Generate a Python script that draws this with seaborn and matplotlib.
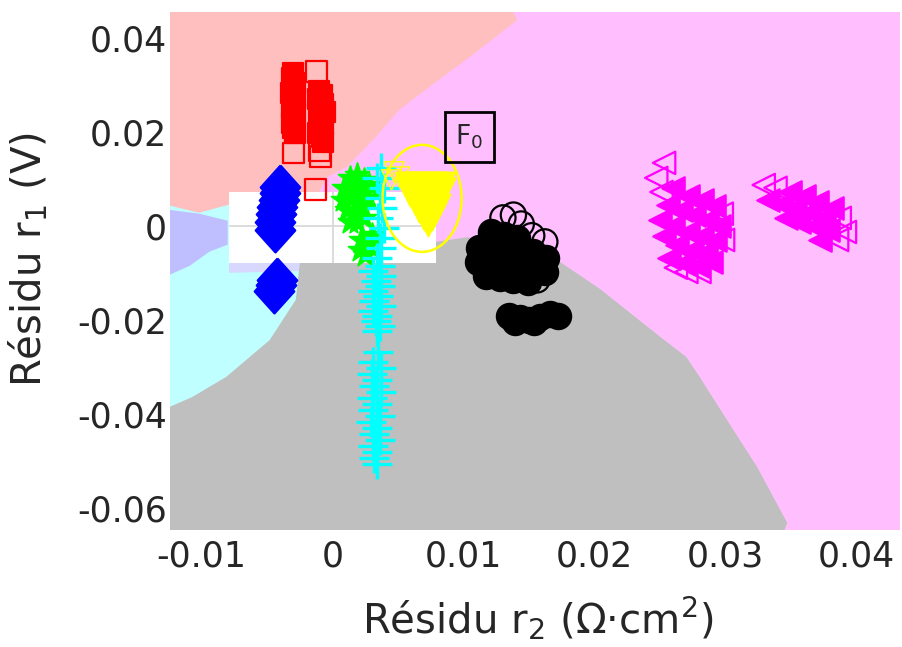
import matplotlib
matplotlib.use("Agg")
import matplotlib.pyplot as plt
from matplotlib.patches import Ellipse
import seaborn as sns

# ------------------------------------------------------------
# Decision regions (boundary vertices)
# ------------------------------------------------------------
magenta_reg_x = [-0.0130, 0.0440, 0.0440, -0.0130]
magenta_reg_y = [0.0460, 0.0460, -0.0660, -0.0660]

cyan_reg_x = [-0.0130, -0.0079, -0.0079, -0.0025, -0.0025, -0.0130]
cyan_reg_y = [0.0047, 0.0047, -0.0079, -0.0079, -0.0450, -0.0450]

salmon_reg_x = [-0.0130, 0.0137, 0.0141, 0.0107, 0.0076, 0.0051, 0.0031,
                0.0011, -0.0005, -0.0010, -0.0079, -0.0079, -0.0102, -0.0130]
salmon_reg_y = [0.0460, 0.0460, 0.0438, 0.0364, 0.0300, 0.0247, 0.0183,
                0.0126, 0.0102, 0.0072, 0.0072, 0.0045, 0.0028, 0.0047]

lavender_reg_x = [-0.0130, -0.0102, -0.0080, -0.0080, -0.0094, -0.0109, -0.0130]
lavender_reg_y = [0.0036, 0.0026, 0.0011, -0.0040, -0.0055, -0.0085, -0.0111]
lavender_strip_x = [-0.0079, -0.0025, -0.0025, -0.0079]
lavender_strip_y = [-0.0079, -0.0079, -0.0096, -0.0100]

grey_reg_x = [-0.0025, 0.0079, 0.0079, 0.0103, 0.0171, 0.0204, 0.0227, 0.0250,
              0.0270, 0.0280, 0.0301, 0.0324, 0.0347, 0.0343, -0.0130, -0.0130,
              -0.0107, -0.0081, -0.0048, -0.0028]
grey_reg_y = [-0.0079, -0.0079, -0.0034, -0.0024, -0.0072, -0.0134, -0.0185, -0.0236,
              -0.0279, -0.0321, -0.0413, -0.0513, -0.0632, -0.0660, -0.0660, -0.0392,
              -0.0364, -0.0321, -0.0243, -0.0157]

white_reg_x = [-0.0079, 0.0079, 0.0079, -0.0079]
white_reg_y = [0.0072, 0.0072, -0.0079, -0.0079]

# ------------------------------------------------------------
# Residual clusters ("core" = dense overlapped part, "edge" = loose outlines)
# ------------------------------------------------------------
red_core_x = [-0.0030, -0.0031, -0.0029, -0.0030, -0.0032, -0.0029, -0.0030, -0.0031,
              -0.0029, -0.0030, -0.0031, -0.0030, -0.0029,
              -0.0010, -0.0008, -0.0011, -0.0007, -0.0009, -0.0006, -0.0010, -0.0008,
              -0.0007, -0.0009, -0.0011, -0.0008, -0.0007]
red_core_y = [0.0326, 0.0314, 0.0304, 0.0294, 0.0283, 0.0272, 0.0262, 0.0251,
              0.0240, 0.0230, 0.0219, 0.0208, 0.0198,
              0.0287, 0.0278, 0.0269, 0.0260, 0.0251, 0.0242, 0.0233, 0.0224,
              0.0215, 0.0206, 0.0197, 0.0188, 0.0179]
red_edge_x = [-0.0030, -0.0012, -0.0010, -0.0009, -0.0013]
red_edge_y = [0.0155, 0.0328, 0.0160, 0.0147, 0.0077]

blue_x = [-0.0040, -0.0040, -0.0041, -0.0042, -0.0043, -0.0044, -0.0044,
          -0.0042, -0.0043, -0.0045]
blue_y = [0.0083, 0.0070, 0.0055, 0.0040, 0.0026, 0.0009, -0.0009,
          -0.0115, -0.0126, -0.0138]

green_x = [0.0013, 0.0019, 0.0024, 0.0009, 0.0017, 0.0023, 0.0028, 0.0008, 0.0015,
           0.0021, 0.0027, 0.0011, 0.0017, 0.0023, 0.0013, 0.0019, 0.0024, 0.0022,
           0.0027, 0.0021, 0.0025, 0.0030]
green_y = [0.0102, 0.0109, 0.0098, 0.0081, 0.0081, 0.0077, 0.0087, 0.0055, 0.0060,
           0.0055, 0.0060, 0.0034, 0.0030, 0.0038, 0.0009, 0.0009, 0.0017, -0.0030,
           -0.0040, -0.0051, -0.0062, -0.0019]

cyan_x = [0.0037, 0.0034, 0.0039, 0.0036, 0.0038, 0.0035, 0.0039, 0.0036, 0.0037, 0.0034,
          0.0036, 0.0031, 0.0037, 0.0033, 0.0036, 0.0031, 0.0035, 0.0032, 0.0037, 0.0031,
          0.0034, 0.0033, 0.0036, 0.0034,
          0.0035, 0.0031, 0.0037, 0.0030, 0.0034, 0.0032, 0.0037, 0.0030, 0.0034, 0.0031,
          0.0036, 0.0029, 0.0034, 0.0032, 0.0036, 0.0031, 0.0034, 0.0032, 0.0034]
cyan_y = [0.0123, 0.0102, 0.0081, 0.0060, 0.0038, 0.0017, -0.0004, -0.0026, -0.0047, -0.0068,
          -0.0085, -0.0096, -0.0106, -0.0117, -0.0128, -0.0138, -0.0149, -0.0160, -0.0170,
          -0.0181, -0.0191, -0.0202, -0.0213, -0.0223,
          -0.0268, -0.0289, -0.0302, -0.0315, -0.0328, -0.0340, -0.0353, -0.0366, -0.0379,
          -0.0391, -0.0404, -0.0417, -0.0430, -0.0443, -0.0455, -0.0468, -0.0481, -0.0494,
          -0.0506]

yellow_core_x = [0.0055, 0.0061, 0.0067, 0.0073, 0.0079, 0.0086, 0.0057,
                 0.0065, 0.0073, 0.0080, 0.0086, 0.0059, 0.0066, 0.0074, 0.0082, 0.0063,
                 0.0069, 0.0076, 0.0082, 0.0066, 0.0073, 0.0079, 0.0070, 0.0076, 0.0073]
yellow_core_y = [0.0094, 0.0094, 0.0094, 0.0094, 0.0094, 0.0094, 0.0081,
                 0.0081, 0.0081, 0.0081, 0.0081, 0.0064, 0.0064, 0.0064, 0.0064, 0.0047,
                 0.0047, 0.0047, 0.0047, 0.0030, 0.0030, 0.0030, 0.0013, 0.0013, 0.0000]
yellow_edge_x = [0.0045, 0.0047, 0.0051]
yellow_edge_y = [0.0098, 0.0115, 0.0104]

black_core_x = [0.0121, 0.0131, 0.0141, 0.0112, 0.0121, 0.0132, 0.0143, 0.0153, 0.0163,
                0.0111, 0.0120, 0.0131, 0.0141, 0.0152, 0.0162, 0.0117, 0.0128, 0.0138,
                0.0149,
                0.0135, 0.0143, 0.0150, 0.0158, 0.0166, 0.0172, 0.0139, 0.0154]
black_core_y = [-0.0013, -0.0019, -0.0026, -0.0047, -0.0051, -0.0051, -0.0055, -0.0055,
                -0.0068, -0.0077, -0.0083, -0.0085, -0.0085, -0.0089, -0.0098, -0.0106,
                -0.0111, -0.0115, -0.0119,
                -0.0191, -0.0196, -0.0200, -0.0194, -0.0187, -0.0191, -0.0204, -0.0204]
black_edge_x = [0.0130, 0.0138, 0.0144, 0.0152, 0.0162, 0.0156]
black_edge_y = [0.0017, 0.0023, 0.0004, -0.0021, -0.0034, -0.0115]

magenta_core_x = [0.0260, 0.0271, 0.0282, 0.0291, 0.0256, 0.0266, 0.0276, 0.0286, 0.0295,
                  0.0250, 0.0260, 0.0271, 0.0282, 0.0292, 0.0253, 0.0263, 0.0274, 0.0285,
                  0.0268, 0.0279, 0.0289, 0.0257,
                  0.0349, 0.0360, 0.0370, 0.0381, 0.0332, 0.0343, 0.0353, 0.0364, 0.0375,
                  0.0346, 0.0356, 0.0367, 0.0378, 0.0372]
magenta_core_y = [0.0081, 0.0064, 0.0055, 0.0043, 0.0045, 0.0034, 0.0023, 0.0013, 0.0000,
                  0.0013, 0.0000, -0.0013, -0.0021, -0.0030, -0.0021, -0.0040, -0.0051,
                  -0.0055, -0.0079, -0.0085, -0.0077, -0.0068,
                  0.0072, 0.0064, 0.0051, 0.0038, 0.0055, 0.0047, 0.0038, 0.0030, 0.0017,
                  0.0017, 0.0009, 0.0000, -0.0009, -0.0030]
magenta_edge_x = [0.0253, 0.0247, 0.0251, 0.0297, 0.0298, 0.0270, 0.0280, 0.0262,
                  0.0329, 0.0338, 0.0387, 0.0385, 0.0391]
magenta_edge_y = [0.0134, 0.0102, 0.0072, 0.0026, -0.0030, -0.0098, -0.0098, -0.0089,
                  0.0087, 0.0081, 0.0017, -0.0030, -0.0013]

# F0 ellipse and label
f0_center = (0.00683, 0.00585)
f0_width = 0.00603
f0_height = 0.02277
f0_label_pos = (0.01042, 0.01894)

x_ticks = [-0.01, 0.0, 0.01, 0.02, 0.03, 0.04]
x_tick_labels = ["-0.01", "0", "0.01", "0.02", "0.03", "0.04"]
y_ticks = [-0.06, -0.04, -0.02, 0.0, 0.02, 0.04]
y_tick_labels = ["-0.06", "-0.04", "-0.02", "0", "0.02", "0.04"]


def main():
    sns.set_theme(style="white")
    plt.rcParams["font.family"] = ["DejaVu Sans"]

    fig = plt.figure(figsize=(9.02, 6.47), dpi=100)
    ax = fig.add_axes([0.1885, 0.1808, 0.8093, 0.8007])
    ax.set_facecolor("white")

    # ---- background regions ----
    ax.fill(magenta_reg_x, magenta_reg_y, color="#FFBFFF", lw=0, zorder=1)
    ax.fill(cyan_reg_x, cyan_reg_y, color="#BFFFFF", lw=0, zorder=1)
    ax.fill(salmon_reg_x, salmon_reg_y, color="#FFBFBF", lw=0, zorder=1)
    ax.fill(lavender_reg_x, lavender_reg_y, color="#BFBFFF", lw=0, zorder=1)
    ax.fill(lavender_strip_x, lavender_strip_y, color="#D8D8FF", lw=0, zorder=1)
    ax.fill(grey_reg_x, grey_reg_y, color="#BFBFBF", lw=0, zorder=1)
    white_patch = ax.fill(white_reg_x, white_reg_y, color="white", lw=0, zorder=1)[0]

    # ---- clusters ----
    diamond = [(0, 1), (0.9, 0), (0, -1), (-0.9, 0), (0, 1)]
    lw = 1.6

    sns.scatterplot(x=red_core_x, y=red_core_y, ax=ax, marker="s", s=225,
                    facecolor="#FF0000", edgecolor="#FF0000", linewidth=lw, zorder=3)
    sns.scatterplot(x=red_edge_x, y=red_edge_y, ax=ax, marker="s", s=225,
                    facecolor="none", edgecolor="#FF0000", linewidth=lw, zorder=3)

    sns.scatterplot(x=blue_x, y=blue_y, ax=ax, marker=diamond, s=1000,
                    facecolor="#0000FF", edgecolor="#0000FF", linewidth=lw, zorder=3)

    sns.scatterplot(x=green_x, y=green_y, ax=ax, marker="*", s=330,
                    facecolor="#00FF00", edgecolor="#00FF00", linewidth=1.2, zorder=3)

    sns.scatterplot(x=cyan_x, y=cyan_y, ax=ax, marker="+", s=460,
                    color="#00FFFF", linewidth=2.4, zorder=3)

    sns.scatterplot(x=yellow_edge_x, y=yellow_edge_y, ax=ax, marker="v", s=210,
                    facecolor="none", edgecolor="#FFFF00", linewidth=1.0, zorder=3)
    sns.scatterplot(x=yellow_core_x, y=yellow_core_y, ax=ax, marker="v", s=210,
                    facecolor="#FFFF00", edgecolor="#FFFF00", linewidth=1.3, zorder=3)

    sns.scatterplot(x=black_core_x, y=black_core_y, ax=ax, marker="o", s=330,
                    facecolor="black", edgecolor="black", linewidth=lw, zorder=3)
    sns.scatterplot(x=black_edge_x, y=black_edge_y, ax=ax, marker="o", s=330,
                    facecolor="none", edgecolor="black", linewidth=lw, zorder=3)

    sns.scatterplot(x=magenta_core_x, y=magenta_core_y, ax=ax, marker="<", s=260,
                    facecolor="#FF00FF", edgecolor="#FF00FF", linewidth=lw, zorder=3)
    sns.scatterplot(x=magenta_edge_x, y=magenta_edge_y, ax=ax, marker="<", s=260,
                    facecolor="none", edgecolor="#FF00FF", linewidth=lw, zorder=3)

    # ---- F0 annotation ----
    ax.add_patch(Ellipse(f0_center, f0_width, f0_height, fill=False,
                         edgecolor="#FFFF00", linewidth=1.8, zorder=4))
    ax.text(f0_label_pos[0], f0_label_pos[1], "F$_0$", fontsize=19,
            ha="center", va="center", zorder=5,
            bbox=dict(boxstyle="square,pad=0.4", facecolor="none",
                      edgecolor="black", linewidth=2.0))

    # ---- axes ----
    ax.set_xlim(-0.0124, 0.0433)
    ax.set_ylim(-0.0647, 0.0455)
    ax.set_xticks(x_ticks)
    ax.set_xticklabels(x_tick_labels)
    ax.set_yticks(y_ticks)
    ax.set_yticklabels(y_tick_labels)
    ax.tick_params(axis="both", length=0, labelsize=25, colors="#262626")
    ax.tick_params(axis="x", pad=7)
    ax.tick_params(axis="y", pad=2)

    # grid only shows through the unclassified window
    ax.set_axisbelow(False)
    ax.grid(True, color="#D9D9D9", linewidth=1.3)
    for gl in ax.get_xgridlines() + ax.get_ygridlines():
        gl.set_clip_path(white_patch)

    for spine in ax.spines.values():
        spine.set_visible(False)

    ax.set_xlabel("Résidu r$_2$ (Ω·cm$^2$)", fontsize=29, color="#262626")
    ax.set_ylabel("Résidu r$_1$ (V)", fontsize=29, color="#262626")
    ax.xaxis.set_label_coords(0.504, -0.125)
    ax.yaxis.set_label_coords(-0.164, 0.523)

    fig.savefig("out.png", dpi=100)
    plt.close(fig)


if __name__ == "__main__":
    main()
